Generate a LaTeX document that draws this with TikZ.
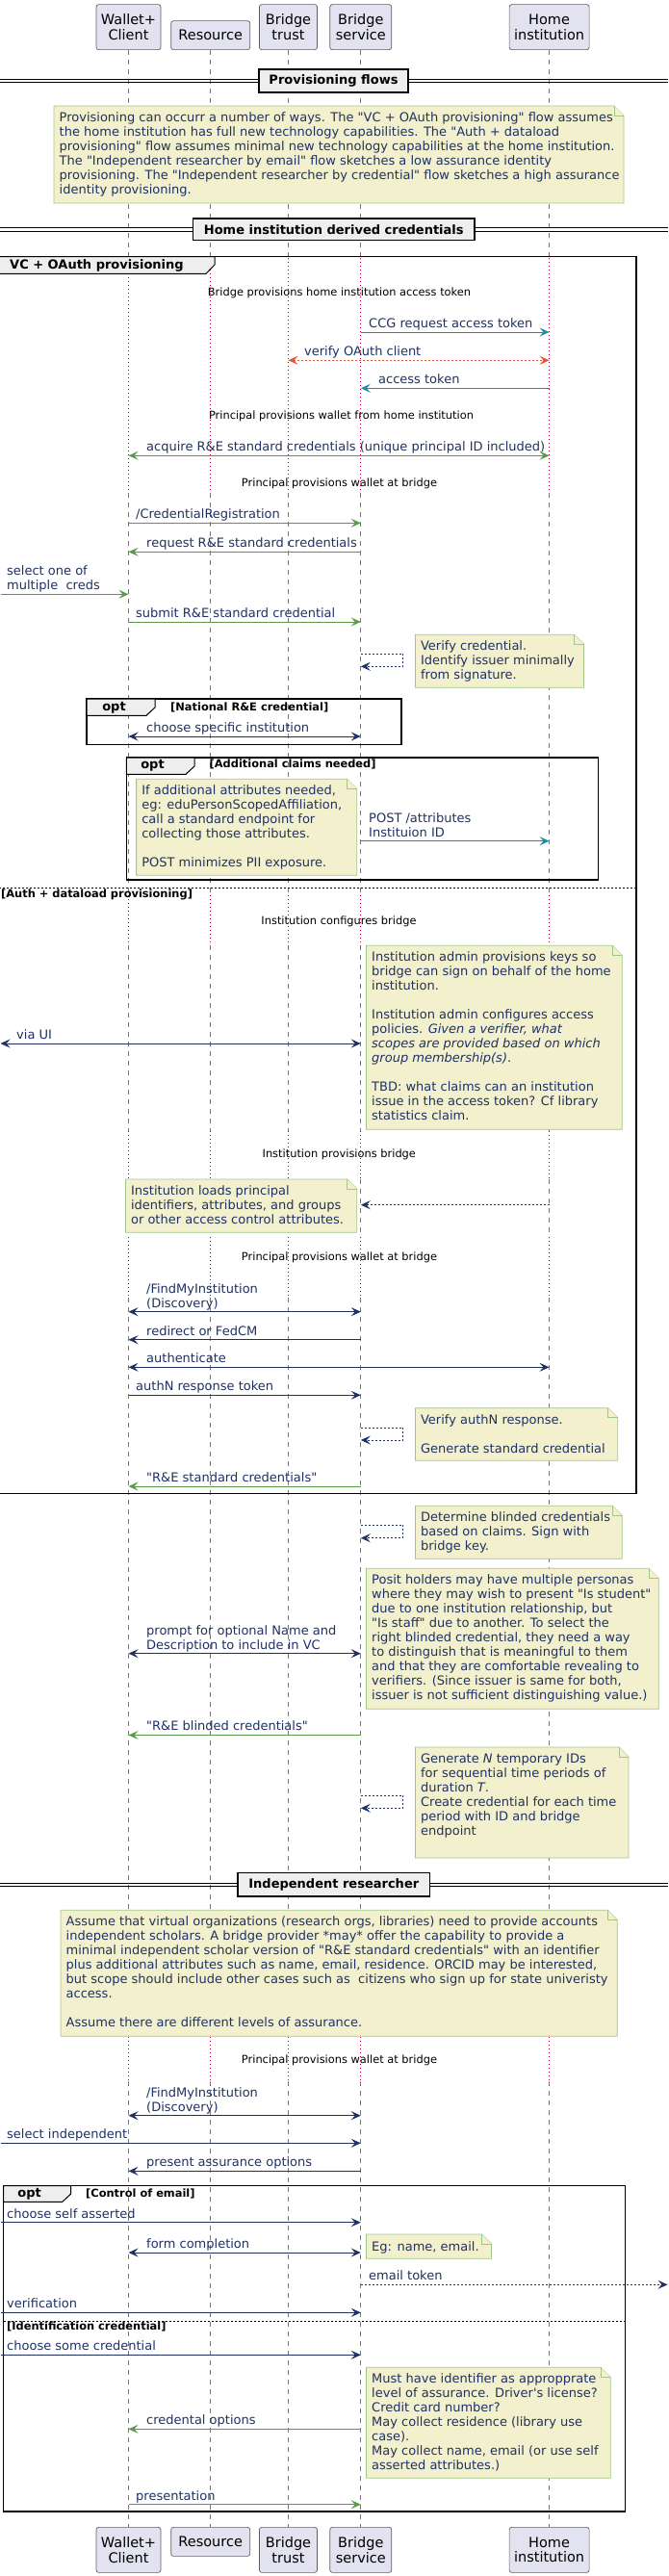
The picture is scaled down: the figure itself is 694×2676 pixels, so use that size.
\documentclass[tikz,border=0pt]{standalone}
\usepackage{fontspec}
\setmainfont{DejaVu Sans}
\usetikzlibrary{arrows.meta, positioning}

\definecolor{msgnavy}{HTML}{1F3163}
\definecolor{msgteal}{HTML}{1B8FA8}
\definecolor{msggreen}{HTML}{5A9A48}
\definecolor{msgred}{HTML}{E0563A}
\definecolor{notefill}{HTML}{F3F1CD}
\definecolor{noteline}{HTML}{A2C58A}
\definecolor{partfill}{HTML}{E2E2F0}
\definecolor{partline}{HTML}{5C5C66}
\definecolor{lifegray}{HTML}{777777}
\definecolor{delayred}{HTML}{A80036}
\definecolor{tabfill}{HTML}{EEEEEE}

\newcommand{\msgfont}{\fontsize{13}{15}\selectfont}
\newcommand{\smallfont}{\fontsize{11.4}{13}\selectfont}
\newcommand{\partfont}{\fontsize{14.5}{15.5}\selectfont}
\newcommand{\dq}{\textquotedbl}
\newcommand{\sq}{\textquotesingle}

\tikzstyle{participant} = [rectangle, rounded corners=2.5pt, draw=partline, fill=partfill, line width=0.7pt, font=\partfont, align=center, inner sep=0pt]
\tikzstyle{lifeline} = [draw=lifegray, line width=0.8pt, dash pattern=on 5pt off 5pt]
\tikzstyle{delayline} = [draw=delayred, line width=0.8pt, dash pattern=on 1pt off 3pt]
\tikzstyle{delaytext} = [font=\smallfont, inner sep=0pt]
\tikzstyle{msglabel} = [anchor=south west, inner sep=0pt, font=\msgfont, text=msgnavy, align=left, execute at end node=\strut]
\tikzstyle{notetext} = [anchor=north west, inner sep=0pt, font=\msgfont, text=msgnavy, align=left, execute at begin node=\strut]
\tikzstyle{noteshape} = [fill=notefill, draw=noteline, line width=0.8pt]
\tikzstyle{garrow} = [draw=msggreen, line width=1pt, ->]
\tikzstyle{gboth} = [draw=msggreen, line width=1pt, <->]
\tikzstyle{narrow} = [draw=msgnavy, line width=1pt, ->]
\tikzstyle{nboth} = [draw=msgnavy, line width=1pt, <->]
\tikzstyle{ndotted} = [draw=msgnavy, line width=1pt, dash pattern=on 2pt off 2pt, ->]
\tikzstyle{tarrow} = [draw=msgteal, line width=1pt, ->]
\tikzstyle{rdotted} = [draw=msgred, line width=1pt, dash pattern=on 2pt off 2pt, <->]
\tikzstyle{groupframe} = [draw=black, line width=1.5pt]
\tikzstyle{elseline} = [draw=black, line width=0.8pt, dash pattern=on 2pt off 2pt]
\tikzstyle{tabshape} = [fill=tabfill, draw=black, line width=1pt]
\tikzstyle{tabtext} = [font=\bfseries\msgfont, inner sep=0pt]
\tikzstyle{guard} = [font=\bfseries\smallfont, inner sep=0pt, anchor=west]
\tikzstyle{sepline} = [draw=black, line width=1pt]
\tikzstyle{sepbox} = [draw=black, line width=1.5pt, fill=tabfill, font=\bfseries\msgfont, inner sep=0pt]

% note outline with folded corner: x1, y1, x2, y2
\newcommand{\drawnote}[4]{%
  \path[noteshape] (#1,#2) -- ({#3-10},#2) -- (#3,{#2+10}) -- (#3,#4) -- (#1,#4) -- cycle;
  \path[noteshape] ({#3-10},#2) -- ({#3-10},{#2+10}) -- (#3,{#2+10});
}

\begin{document}
\begin{tikzpicture}[x=1pt, y=-1pt, >={Stealth[length=10pt,width=9pt,inset=4pt]}]
\useasboundingbox (0,0) rectangle (694,2676);
% Participants
\node (wal) [participant, minimum width=67pt, minimum height=47pt, anchor=south] at (133.5,52) {Wallet+\\Client};
\node (res) [participant, minimum width=82pt, minimum height=30pt, anchor=south] at (218.7,52) {Resource};
\node (btr) [participant, minimum width=60pt, minimum height=47pt, anchor=south] at (299.5,52) {Bridge\\trust};
\node (bsv) [participant, minimum width=64pt, minimum height=47pt, anchor=south] at (374.8,52) {Bridge\\service};
\node (hom) [participant, minimum width=83pt, minimum height=47pt, anchor=south] at (570.6,52) {Home\\institution};
\node (walB) [participant, minimum width=67pt, minimum height=47pt, anchor=north] at (133.5,2625) {Wallet+\\Client};
\node (resB) [participant, minimum width=82pt, minimum height=30pt, anchor=north] at (218.7,2625) {Resource};
\node (btrB) [participant, minimum width=60pt, minimum height=47pt, anchor=north] at (299.5,2625) {Bridge\\trust};
\node (bsvB) [participant, minimum width=64pt, minimum height=47pt, anchor=north] at (374.8,2625) {Bridge\\service};
\node (homB) [participant, minimum width=83pt, minimum height=47pt, anchor=north] at (570.6,2625) {Home\\institution};
\coordinate (edgeL) at (0.5,0);
\coordinate (edgeR) at (693.5,0);

% Lifelines
\foreach \p in {wal,res,btr,bsv,hom} {
  \foreach \a/\b in {52/268,512/930,982/1175,1225/1285,1348/2116,2162/2625}
    \draw[lifeline] (\p |- 0,\a) -- (\p |- 0,\b);
  \foreach \a/\b in {268/512,930/982,1175/1225,1285/1348,2116/2162}
    \draw[delayline] (\p |- 0,\a) -- (\p |- 0,\b);
}

% Provisioning flows
\draw[sepline] (0,82.3) -- (694,82.3);
\draw[sepline] (0,85.7) -- (694,85.7);
\node (sep1) [sepbox, minimum width=155pt, minimum height=24pt] at (346.5,84) {Provisioning flows};
\drawnote{56}{110}{648}{211}
\node (nIntro) [notetext] at (61.5,116.5) {Provisioning can occurr a number of ways. The \dq VC + OAuth provisioning\dq{} flow assumes\\
the home institution has full new technology capabilities. The \dq Auth + dataload\\
provisioning\dq{} flow assumes minimal new technology capabilities at the home institution.\\
The \dq Independent researcher by email\dq{} flow sketches a low assurance identity\\
provisioning. The \dq Independent researcher by credential\dq{} flow sketches a high assurance\\
identity provisioning.};

% Home institution derived credentials
\draw[sepline] (0,236.6) -- (694,236.6);
\draw[sepline] (0,240) -- (694,240);
\node (sep2) [sepbox, minimum width=292.5pt, minimum height=22.6pt] at (346.8,238.3) {Home institution derived credentials};

% VC + OAuth provisioning
\draw[groupframe] (-1,266.7) rectangle (661,1551.7);
\filldraw[tabshape] (-1,266.7) -- (223,266.7) -- (223,275) -- (214,284.3) -- (-1,284.3) -- cycle;
\node (gVC) [tabtext, anchor=west] at (10,275.5) {VC + OAuth provisioning};

\node (d1) [delaytext] at (352.5,304.3) {Bridge provisions home institution access token};
\node (l1) [msglabel] at (383,345) {CCG request access token};
\draw[tarrow] (bsv |- 0,345) -- (hom |- 0,345);
\node (l2) [msglabel] at (316,374.3) {verify OAuth client};
\draw[rdotted] (btr |- 0,374.3) -- (hom |- 0,374.3);
\node (l3) [msglabel] at (393,403.3) {access token};
\draw[tarrow] (hom |- 0,403.3) -- (bsv |- 0,403.3);

\node (d2) [delaytext] at (354.5,432.3) {Principal provisions wallet from home institution};
\node (l4) [msglabel] at (152,473.3) {acquire R\&E standard credentials (unique principal ID included)};
\draw[gboth] (wal |- 0,473.3) -- (hom |- 0,473.3);

\node (d3) [delaytext] at (352.5,502.3) {Principal provisions wallet at bridge};
\node (l5) [msglabel] at (141,543.3) {/CredentialRegistration};
\draw[garrow] (wal |- 0,543.3) -- (bsv |- 0,543.3);
\node (l6) [msglabel] at (152,573.3) {request R\&E standard credentials};
\draw[garrow] (bsv |- 0,573.3) -- (wal |- 0,573.3);
\node (l7) [msglabel] at (7,617.3) {select one of\\multiple~ creds};
\draw[garrow] (edgeL |- 0,617.3) -- (wal |- 0,617.3);
\node (l8) [msglabel] at (141,646) {submit R\&E standard credential};
\draw[garrow] (wal |- 0,646) -- (bsv |- 0,646);
\draw[ndotted] (bsv |- 0,679) -- ++(44,0) -- ++(0,13.3) -- (bsv |- 0,692.3);
\drawnote{431.4}{659.3}{606.5}{714.3}
\node (nVerify) [notetext] at (436.9,665.8) {Verify credential.\\Identify issuer minimally\\from signature.};

% opt National R&E credential
\draw[groupframe] (90.2,726) rectangle (417,773.7);
\filldraw[tabshape] (90.2,726) -- (161,726) -- (161,735) -- (152,743.3) -- (90.2,743.3) -- cycle;
\node (o1) [tabtext] at (118.5,735.3) {opt};
\node (o1g) [guard] at (177,735.3) {[National R\&E credential]};
\node (l9) [msglabel] at (152,765) {choose specific institution};
\draw[nboth] (wal |- 0,765) -- (bsv |- 0,765);

% opt Additional claims needed
\draw[groupframe] (131.3,787) rectangle (621.7,914);
\filldraw[tabshape] (131.3,787) -- (202,787) -- (202,796) -- (193,804.3) -- (131.3,804.3) -- cycle;
\node (o2) [tabtext] at (158.5,795.5) {opt};
\node (o2g) [guard] at (217.5,794.3) {[Additional claims needed]};
\drawnote{141.6}{809.3}{370.7}{909.3}
\node (nClaims) [notetext] at (147.1,815.8) {If additional attributes needed,\\
eg: eduPersonScopedAffiliation,\\
call a standard endpoint for\\
collecting those attributes.\\[15pt]
POST minimizes PII exposure.};
\node (l10) [msglabel] at (383,873.7) {POST /attributes\\Instituion ID};
\draw[tarrow] (bsv |- 0,873.7) -- (hom |- 0,873.7);

% Auth + dataload provisioning
\draw[elseline] (-1,922.3) -- (661,922.3);
\node (e1) [guard] at (1,929.5) {[Auth + dataload provisioning]};
\node (d4) [delaytext] at (352,957.3) {Institution configures bridge};
\drawnote{380.5}{982.3}{646.3}{1173.3}
\node (nAdmin) [notetext] at (386,988.8) {Institution admin provisions keys so\\
bridge can sign on behalf of the home\\
institution.\\[15pt]
Institution admin configures access\\
policies. \textit{Given a verifier, what}\\
\textit{scopes are provided based on which}\\
\textit{group membership(s)}.\\[15pt]
TBD: what claims can an institution\\
issue in the access token? Cf library\\
statistics claim.};
\node (l11) [msglabel] at (17,1084) {via UI};
\draw[nboth] (edgeL |- 0,1084) -- (bsv |- 0,1084);

\node (d5) [delaytext] at (352.3,1199) {Institution provisions bridge};
\drawnote{130.4}{1225}{370.7}{1280.3}
\node (nLoads) [notetext] at (135.9,1231.5) {Institution loads principal\\
identifiers, attributes, and groups\\
or other access control attributes.};
\draw[ndotted] (hom |- 0,1251.7) -- (bsv |- 0,1251.7);

\node (d6) [delaytext] at (352.5,1306) {Principal provisions wallet at bridge};
\node (l13) [msglabel] at (152,1362.7) {/FindMyInstitution\\(Discovery)};
\draw[nboth] (wal |- 0,1362.7) -- (bsv |- 0,1362.7);
\node (l14) [msglabel] at (152,1391.7) {redirect or FedCM};
\draw[narrow] (bsv |- 0,1391.7) -- (wal |- 0,1391.7);
\node (l15) [msglabel] at (152,1420.3) {authenticate};
\draw[nboth] (wal |- 0,1420.3) -- (hom |- 0,1420.3);
\node (l16) [msglabel] at (141,1449.3) {authN response token};
\draw[narrow] (wal |- 0,1449.3) -- (bsv |- 0,1449.3);
\draw[ndotted] (bsv |- 0,1483.3) -- ++(44,0) -- ++(0,12.7) -- (bsv |- 0,1496);
\drawnote{431.4}{1462.7}{641.7}{1517.3}
\node (nAuthN) [notetext] at (436.9,1469.2) {Verify authN response.\\[15pt]Generate standard credential};
\node (l17) [msglabel] at (152,1544) {\dq R\&E standard credentials\dq};
\draw[garrow] (bsv |- 0,1544) -- (wal |- 0,1544);

% after the group
\drawnote{431.4}{1564.3}{646.3}{1619.3}
\node (nBlind) [notetext] at (436.9,1570.8) {Determine blinded credentials\\based on claims. Sign with\\bridge key.};
\draw[ndotted] (bsv |- 0,1584.3) -- ++(44,0) -- ++(0,13.4) -- (bsv |- 0,1597.7);
\drawnote{380.5}{1629.3}{684.2}{1775.3}
\node (nPosit) [notetext] at (386,1635.8) {Posit holders may have multiple personas\\
where they may wish to present \dq Is student\dq\\
due to one institution relationship, but\\
\dq Is staff\dq{} due to another. To select the\\
right blinded credential, they need a way\\
to distinguish that is meaningful to them\\
and that they are comfortable revealing to\\
verifiers. (Since issuer is same for both,\\
issuer is not sufficient distinguishing value.)};
\node (l18) [msglabel] at (152,1717.7) {prompt for optional Name and\\Description to include in VC};
\draw[nboth] (wal |- 0,1717.7) -- (bsv |- 0,1717.7);
\node (l19) [msglabel] at (152,1802.5) {\dq R\&E blinded credentials\dq};
\draw[garrow] (bsv |- 0,1802.5) -- (wal |- 0,1802.5);
\drawnote{431.4}{1815}{653}{1930}
\node (nGen) [notetext] at (436.9,1821.5) {Generate \textit{N} temporary IDs\\
for sequential time periods of\\
duration \textit{T}.\\
Create credential for each time\\
period with ID and bridge\\
endpoint};
\draw[ndotted] (bsv |- 0,1865.3) -- ++(44,0) -- ++(0,13) -- (bsv |- 0,1878.3);

% Independent researcher
\draw[sepline] (0,1956) -- (694,1956);
\draw[sepline] (0,1959.4) -- (694,1959.4);
\node (sep3) [sepbox, minimum width=199.6pt, minimum height=24.3pt] at (346.8,1957.8) {Independent researcher};
\drawnote{63}{1984.3}{641.3}{2115.3}
\node (nAssume) [notetext] at (68.5,1990.8) {Assume that virtual organizations (research orgs, libraries) need to provide accounts\\
independent scholars. A bridge provider *may* offer the capability to provide a\\
minimal independent scholar version of \dq R\&E standard credentials\dq{} with an identifier\\
plus additional attributes such as name, email, residence. ORCID may be interested,\\
but scope should include other cases such as~ citizens who sign up for state univeristy\\
access.\\[15pt]
Assume there are different levels of assurance.};

\node (d7) [delaytext] at (352.5,2140) {Principal provisions wallet at bridge};
\node (l20) [msglabel] at (152,2197.7) {/FindMyInstitution\\(Discovery)};
\draw[nboth] (wal |- 0,2197.7) -- (bsv |- 0,2197.7);
\node (l21) [msglabel] at (7,2226.3) {select independent};
\draw[narrow] (edgeL |- 0,2226.3) -- (bsv |- 0,2226.3);
\node (l22) [msglabel] at (152,2255.3) {present assurance options};
\draw[narrow] (bsv |- 0,2255.3) -- (wal |- 0,2255.3);

% opt Control of email
\draw[groupframe] (3.6,2270.7) rectangle (649.4,2609);
\filldraw[tabshape] (3.6,2270.7) -- (73.7,2270.7) -- (73.7,2279) -- (64.7,2287.3) -- (3.6,2287.3) -- cycle;
\node (o3) [tabtext] at (30.6,2279.5) {opt};
\node (o3g) [guard] at (89,2279.3) {[Control of email]};
\node (l23) [msglabel] at (7,2308.7) {choose self asserted};
\draw[narrow] (edgeL |- 0,2308.7) -- (bsv |- 0,2308.7);
\node (l24) [msglabel] at (152,2340) {form completion};
\draw[nboth] (wal |- 0,2340) -- (bsv |- 0,2340);
\drawnote{380.5}{2321}{510.5}{2346.3}
\node (nEg) [notetext] at (386,2327.5) {Eg: name, email.};
\node (l25) [msglabel] at (383,2373.3) {email token};
\draw[ndotted] (bsv |- 0,2373.3) -- (edgeR |- 0,2373.3);
\node (l26) [msglabel] at (7,2402.3) {verification};
\draw[narrow] (edgeL |- 0,2402.3) -- (bsv |- 0,2402.3);

% Identification credential
\draw[elseline] (3.6,2411) -- (649.4,2411);
\node (e2) [guard] at (7,2417) {[Identification credential]};
\node (l27) [msglabel] at (7,2446.3) {choose some credential};
\draw[narrow] (edgeL |- 0,2446.3) -- (bsv |- 0,2446.3);
\drawnote{380.5}{2459.3}{634.2}{2574.3}
\node (nMust) [notetext] at (386,2465.8) {Must have identifier as appropprate\\
level of assurance. Driver\sq s license?\\
Credit card number?\\
May collect residence (library use\\
case).\\
May collect name, email (or use self\\
asserted attributes.)};
\node (l28) [msglabel] at (152,2523.3) {credental options};
\draw[garrow] (bsv |- 0,2523.3) -- (wal |- 0,2523.3);
\node (l29) [msglabel] at (141,2601.7) {presentation};
\draw[garrow] (wal |- 0,2601.7) -- (bsv |- 0,2601.7);
\end{tikzpicture}
\end{document}
